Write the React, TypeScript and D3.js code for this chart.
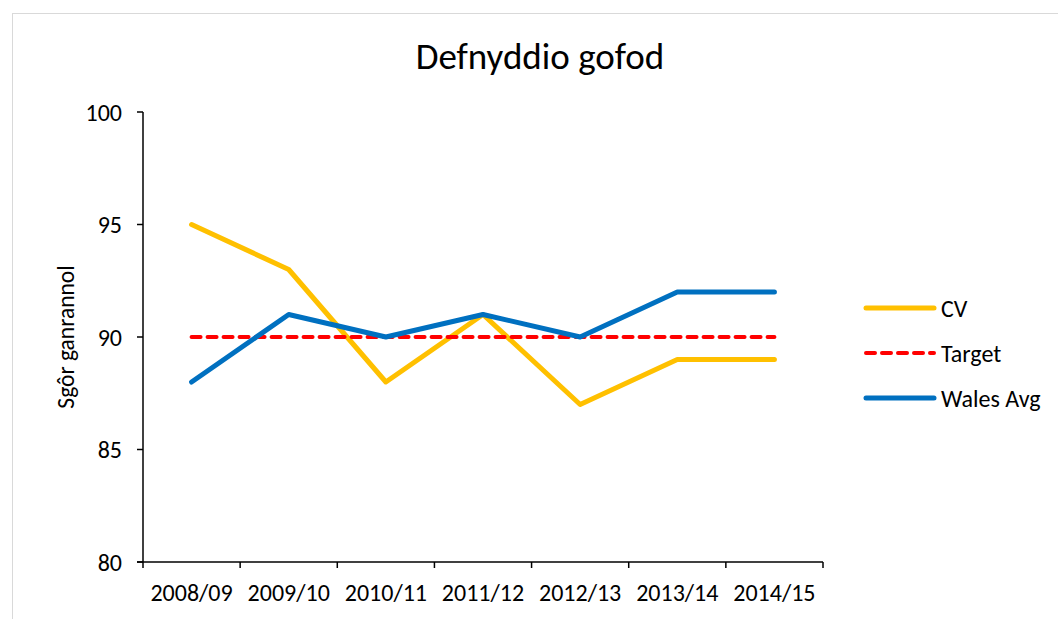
import { useMemo } from 'react';
import * as d3 from 'd3';

const categories = ['2008/09', '2009/10', '2010/11', '2011/12', '2012/13', '2013/14', '2014/15'];
const cvValues = [95, 93, 88, 91, 87, 89, 89];
const targetValues = [90, 90, 90, 90, 90, 90, 90];
const walesValues = [88, 91, 90, 91, 90, 92, 92];
const yTicks = [80, 85, 90, 95, 100];

const seriesList = [
  { name: 'CV', values: cvValues, color: '#FFC000', dash: null },
  { name: 'Target', values: targetValues, color: '#FF0000', dash: '9 7' },
  { name: 'Wales Avg', values: walesValues, color: '#0070C0', dash: null },
];

const font = 'Calibri, Carlito, Lato, "Open Sans", sans-serif';

const App = () => {
  const width = 1058;
  const height = 619;
  const plot = { left: 143, right: 823, top: 112, bottom: 562 };

  const x = useMemo(
    () => d3.scaleBand<string>().domain(categories).range([plot.left, plot.right]),
    []
  );
  const y = useMemo(() => d3.scaleLinear().domain([80, 100]).range([plot.bottom, plot.top]), []);

  const line = d3
    .line<number>()
    .x((_, i) => (x(categories[i]) as number) + x.bandwidth() / 2)
    .y((d) => y(d));

  const tickXs = categories.map((c) => x(c) as number).concat([plot.right]);

  return (
    <svg
      width={width}
      height={height}
      style={{ position: 'absolute', left: 0, top: 0, fontFamily: font }}
    >
      <rect x={0} y={0} width={width} height={height} fill="#fff" />
      <rect x={12.5} y={13.5} width={1060} height={620} fill="none" stroke="#d9d9d9" strokeWidth={1} />

      <text x={540} y={69} textAnchor="middle" fontSize={37} fill="#000">
        Defnyddio gofod
      </text>

      {/* y axis */}
      <line x1={plot.left} x2={plot.left} y1={plot.top} y2={plot.bottom} stroke="#000" strokeWidth={1.5} />
      {yTicks.map((t) => (
        <g key={t}>
          <line x1={plot.left - 6} x2={plot.left} y1={y(t)} y2={y(t)} stroke="#000" strokeWidth={1.5} />
          <text x={plot.left - 21} y={y(t)} textAnchor="end" dominantBaseline="central" fontSize={24}>
            {t}
          </text>
        </g>
      ))}
      <text
        transform={`translate(66, ${(plot.top + plot.bottom) / 2}) rotate(-90)`}
        textAnchor="middle"
        dominantBaseline="central"
        fontSize={23.5}
      >
        Sgôr ganrannol
      </text>

      {/* x axis */}
      <line x1={plot.left - 6} x2={plot.right} y1={plot.bottom} y2={plot.bottom} stroke="#000" strokeWidth={1.5} />
      {tickXs.map((tx, i) => (
        <line key={i} x1={tx} x2={tx} y1={plot.bottom} y2={plot.bottom + 6} stroke="#000" strokeWidth={1.5} />
      ))}
      {categories.map((c) => (
        <text
          key={c}
          x={(x(c) as number) + x.bandwidth() / 2}
          y={plot.bottom + 39}
          textAnchor="middle"
          fontSize={24}
        >
          {c}
        </text>
      ))}

      {/* series */}
      {seriesList.map((s) => (
        <path
          key={s.name}
          d={line(s.values) as string}
          fill="none"
          stroke={s.color}
          strokeWidth={s.dash ? 4 : 5}
          strokeLinecap="round"
          strokeLinejoin="round"
          strokeDasharray={s.dash ?? undefined}
        />
      ))}

      {/* legend */}
      {seriesList.map((s, i) => {
        const ly = 308 + i * 45;
        return (
          <g key={s.name}>
            <line
              x1={866}
              x2={934}
              y1={ly}
              y2={ly}
              stroke={s.color}
              strokeWidth={s.dash ? 4 : 5}
              strokeLinecap="round"
              strokeDasharray={s.dash ?? undefined}
            />
            <text x={941} y={ly} dominantBaseline="central" fontSize={24}>
              {s.name}
            </text>
          </g>
        );
      })}
    </svg>
  );
};

export default App;
